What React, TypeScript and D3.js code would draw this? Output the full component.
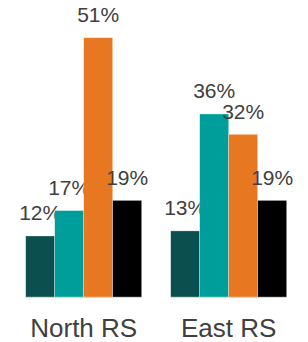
import React from 'react'
import * as d3 from 'd3'

const WIDTH = 308
const HEIGHT = 342

const regions = ['North RS', 'East RS']
const seriesKeys = ['s1', 's2', 's3', 's4']
const seriesColors = ['#0b4f4f', '#009e9b', '#e87722', '#000000']
const northValues = [12, 17, 51, 19]
const eastValues = [13, 36, 32, 19]

const valuesByRegion = [northValues, eastValues]

export default function App() {
  const x0 = d3.scaleBand<string>()
    .domain(regions)
    .range([25.7, 286.7])
    .paddingInner(0.2)
    .paddingOuter(0)

  const x1 = d3.scaleBand<string>()
    .domain(seriesKeys)
    .range([0, x0.bandwidth()])

  const y = d3.scaleLinear()
    .domain([0, 51])
    .range([297, 37.7])

  return (
    <svg width={WIDTH} height={HEIGHT} style={{ position: 'absolute', left: 0, top: 0 }}
      fontFamily="'Liberation Sans', Arial, sans-serif">
      <rect width={WIDTH} height={HEIGHT} fill="#fff" />
      {regions.map((region, gi) => {
        const gx = x0(region) || 0
        return (
          <g key={region} transform={`translate(${gx},0)`}>
            {valuesByRegion[gi].map((v, i) => {
              const bx = x1(seriesKeys[i]) || 0
              return (
                <g key={i}>
                  <rect
                    x={bx}
                    y={y(v)}
                    width={x1.bandwidth()}
                    height={y(0) - y(v)}
                    fill={seriesColors[i]}
                    stroke="#fff"
                    strokeOpacity={0.5}
                    strokeWidth={0.6}
                  />
                  <text
                    x={bx + x1.bandwidth() / 2}
                    y={y(v) - 15.5}
                    textAnchor="middle"
                    fontSize={21}
                    fill="#404040"
                  >
                    {v}%
                  </text>
                </g>
              )
            })}
            <line x1={0} x2={x0.bandwidth()} y1={y(0) + 0.5} y2={y(0) + 0.5} stroke="#d9d9d9" strokeWidth={1} />
            <text
              x={x0.bandwidth() / 2}
              y={337}
              textAnchor="middle"
              fontSize={26}
              fill="#404040"
            >
              {region}
            </text>
          </g>
        )
      })}
    </svg>
  )
}
